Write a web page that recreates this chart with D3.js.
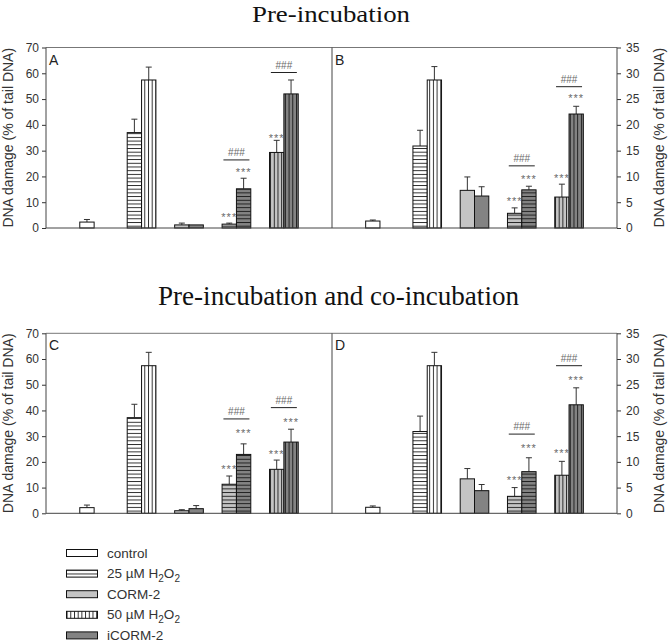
<!DOCTYPE html>
<html><head><meta charset="utf-8">
<script src="https://cdn.jsdelivr.net/npm/d3@7"></script>
<style>body{margin:0;background:#fff} svg{display:block}</style>
</head><body>
<svg id="chart" width="669" height="643"></svg>
<script>
// ---------- DATA ----------
const groups = ["control", "H2O2", "CORM", "25 µM H2O2 + CORM", "50 µM H2O2 + CORM"];
const barKeys  = ["control","h25","h50","corm","icorm","h25corm","h25icorm","h50corm","h50icorm"];
const barGroup = [0,1,1,2,2,3,3,4,4];
const barSlot  = [0,0,1,0,1,0,1,0,1];
const barFill  = ["white","white","white","light","dark","light","dark","light","dark"];
const barHatch = ["none","h","v","none","none","h","h","v","v"];

const valuesA = [2.3, 37.0, 57.4, 1.2, 1.2, 1.5, 15.2, 29.3, 52.0];
const errorsA = [1.0, 5.2, 5.0, 0.7, 0.0, 0.4, 4.1, 4.7, 5.4];
const valuesB = [1.35, 15.9, 28.7, 7.3, 6.2, 2.85, 7.4, 6.0, 22.1];
const errorsB = [0.2, 3.05, 2.6, 2.6, 1.8, 1.05, 0.7, 2.5, 1.5];
const valuesC = [2.2, 37.2, 57.4, 1.0, 1.8, 11.3, 22.9, 17.1, 27.7];
const errorsC = [1.0, 5.2, 5.2, 0.4, 1.2, 3.2, 4.1, 3.6, 5.0];
const valuesD = [1.17, 15.9, 28.7, 6.7, 4.4, 3.3, 8.1, 7.4, 21.1];
const errorsD = [0.26, 3.0, 2.6, 2.0, 1.2, 1.7, 2.7, 2.7, 3.3];

// significance marks: [bar index, y level in data units]
const starsA = [[5, 5.0], [6, 22.5], [7, 35.7]];
const starsB = [[5, 5.7], [6, 9.9], [7, 10.1], [8, 25.6]];
const starsC = [[5, 18.1], [6, 32.0], [7, 24.0], [8, 36.3]];
const starsD = [[5, 6.8], [6, 13.1], [7, 12.2], [8, 26.4]];
// ### marks: [group index, line level in data units]
const hashA = [[3, 26.4], [4, 60.3]];
const hashB = [[3, 12.05], [4, 27.4]];
const hashC = [[3, 36.7], [4, 41.1]];
const hashD = [[3, 15.4], [4, 28.7]];

const leftTicks = [0,10,20,30,40,50,60,70];
const rightTicks = [0,5,10,15,20,25,30,35];
const titles = ["Pre-incubation", "Pre-incubation and co-incubation"];
const yLabel = "DNA damage (% of tail DNA)";
const legendKeys = [0, 1, 3, 2, 4];

// ---------- LAYOUT ----------
const W = 669, H = 643;
const xL = 46, xM = 332, xR = 617;
const rows = [{top: 47.5, bottom: 228}, {top: 333.3, bottom: 513.3}];
const colors = {white: "#ffffff", light: "#c4c4c4", dark: "#838383"};
const ink = "#333";

const svg = d3.select("#chart");
svg.append("rect").attr("width", W).attr("height", H).attr("fill", "#fff");
const defs = svg.append("defs");

function patId(fill, hatch) { return "p_" + fill + "_" + hatch; }
["white","light","dark"].forEach(f => {
  ["h","v"].forEach(h => {
    const sz = 3.7;
    const p = defs.append("pattern").attr("id", patId(f,h))
      .attr("patternUnits", "userSpaceOnUse")
      .attr("width", h === "v" ? sz : 8).attr("height", h === "h" ? sz : 8);
    p.append("rect").attr("width", 8).attr("height", 8).attr("fill", colors[f]);
    if (h === "h") p.append("line").attr("x1", 0).attr("x2", 8).attr("y1", 0.5).attr("y2", 0.5)
      .attr("stroke", "#111").attr("stroke-width", 0.9);
    else p.append("line").attr("y1", 0).attr("y2", 8).attr("x1", 0.5).attr("x2", 0.5)
      .attr("stroke", "#111").attr("stroke-width", 0.9);
  });
});
function fillFor(i) {
  return barHatch[i] === "none" ? colors[barFill[i]] : `url(#${patId(barFill[i], barHatch[i])})`;
}

const panels = [
  {id: "A", row: 0, x0: xL, x1: xM, yMax: 70, values: valuesA, errors: errorsA, stars: starsA, hashes: hashA},
  {id: "B", row: 0, x0: xM, x1: xR, yMax: 35, values: valuesB, errors: errorsB, stars: starsB, hashes: hashB},
  {id: "C", row: 1, x0: xL, x1: xM, yMax: 70, values: valuesC, errors: errorsC, stars: starsC, hashes: hashC},
  {id: "D", row: 1, x0: xM, x1: xR, yMax: 35, values: valuesD, errors: errorsD, stars: starsD, hashes: hashD},
];

panels.forEach(pn => {
  const r = rows[pn.row];
  const x = d3.scaleBand().domain(d3.range(groups.length)).range([pn.x0, pn.x1])
    .paddingInner(0.395).paddingOuter(0.712);
  const xs = d3.scaleBand().domain([0,1]).range([0, x.bandwidth()]);
  const y = d3.scaleLinear().domain([0, pn.yMax]).range([r.bottom, r.top]);
  const g = svg.append("g");
  const bx = i => x(barGroup[i]) + xs(barSlot[i]);
  const bw = xs.bandwidth();

  // error bars (upward only)
  const eb = g.selectAll(".eb").data(d3.range(barKeys.length)).join("g");
  eb.append("line").attr("x1", i => bx(i) + bw/2).attr("x2", i => bx(i) + bw/2)
    .attr("y1", i => y(pn.values[i])).attr("y2", i => y(pn.values[i] + pn.errors[i]))
    .attr("stroke", ink).attr("stroke-width", 1);
  eb.append("line").attr("x1", i => bx(i) + bw/2 - 3).attr("x2", i => bx(i) + bw/2 + 3)
    .attr("y1", i => y(pn.values[i] + pn.errors[i])).attr("y2", i => y(pn.values[i] + pn.errors[i]))
    .attr("stroke", ink).attr("stroke-width", 1)
    .attr("display", i => pn.errors[i] > 0 ? null : "none");

  // bars
  g.selectAll(".bar").data(d3.range(barKeys.length)).join("rect")
    .attr("x", i => bx(i)).attr("width", bw)
    .attr("y", i => y(pn.values[i])).attr("height", i => y(0) - y(pn.values[i]))
    .attr("fill", i => fillFor(i)).attr("stroke", "#111").attr("stroke-width", 1);

  // stars
  g.selectAll(".st").data(pn.stars).join("text")
    .attr("x", d => bx(d[0]) + bw/2).attr("y", d => y(d[1]) + 6)
    .attr("text-anchor", "middle").attr("font-family", "Liberation Sans, Arial, sans-serif")
    .attr("font-size", 11).attr("letter-spacing", 1).attr("fill", "#6a6a6a").text("***");

  // hashes with line
  pn.hashes.forEach(([gi, lv]) => {
    const cx = x(gi) + x.bandwidth()/2;
    g.append("line").attr("x1", cx - 13).attr("x2", cx + 13).attr("y1", y(lv)).attr("y2", y(lv))
      .attr("stroke", "#222").attr("stroke-width", 1);
    g.append("text").attr("x", cx).attr("y", y(lv) - 4).attr("text-anchor", "middle")
      .attr("font-family", "Liberation Sans, Arial, sans-serif").attr("font-size", 10)
      .attr("fill", "#6a6a6a").text("###");
  });

  // panel letter
  g.append("text").attr("x", pn.x0 + 3).attr("y", r.top + 17)
    .attr("font-family", "Liberation Sans, Arial, sans-serif").attr("font-size", 14)
    .attr("fill", "#222").text(pn.id);

  // axes
  if (pn.id === "A" || pn.id === "C") {
    const ax = svg.append("g").attr("transform", `translate(${xL},0)`)
      .call(d3.axisLeft(y).tickValues(leftTicks).tickSize(4).tickPadding(3).tickFormat(d3.format("d")));
    ax.select(".domain").remove();
    ax.selectAll("line").attr("stroke", ink);
    ax.selectAll("text").attr("font-family", "Liberation Sans, Arial, sans-serif").attr("font-size", 12).attr("fill", ink);
    svg.append("text").attr("transform", `translate(13,${(r.top + r.bottom)/2}) rotate(-90)`)
      .attr("text-anchor", "middle").attr("font-family", "Liberation Sans, Arial, sans-serif")
      .attr("font-size", 14).attr("fill", ink).text(yLabel);
  } else {
    const ax = svg.append("g").attr("transform", `translate(${xR},0)`)
      .call(d3.axisRight(y).tickValues(rightTicks).tickSize(4).tickPadding(5).tickFormat(d3.format("d")));
    ax.select(".domain").remove();
    ax.selectAll("line").attr("stroke", ink);
    ax.selectAll("text").attr("font-family", "Liberation Sans, Arial, sans-serif").attr("font-size", 12).attr("fill", ink);
    svg.append("text").attr("transform", `translate(664,${(r.top + r.bottom)/2}) rotate(-90)`)
      .attr("text-anchor", "middle").attr("font-family", "Liberation Sans, Arial, sans-serif")
      .attr("font-size", 14).attr("fill", ink).text(yLabel);
  }
});

// frames
rows.forEach(r => {
  const f = svg.append("g").attr("stroke", "#444").attr("stroke-width", 1).attr("fill", "none");
  f.append("line").attr("x1", xL).attr("x2", xR).attr("y1", r.top).attr("y2", r.top).attr("stroke", "#777");
  f.append("line").attr("x1", xL).attr("x2", xR).attr("y1", r.bottom).attr("y2", r.bottom);
  f.append("line").attr("x1", xL).attr("x2", xL).attr("y1", r.top).attr("y2", r.bottom);
  f.append("line").attr("x1", xM).attr("x2", xM).attr("y1", r.top).attr("y2", r.bottom);
  f.append("line").attr("x1", xR).attr("x2", xR).attr("y1", r.top).attr("y2", r.bottom);
});

// titles
const tt = [{x: 331, y: 21.5, len: 158, fs: 24}, {x: 338.5, y: 305, len: 361, fs: 27}];
titles.forEach((t, i) => {
  svg.append("text").attr("x", tt[i].x).attr("y", tt[i].y).attr("text-anchor", "middle")
    .attr("font-family", "'Liberation Serif', 'Times New Roman', serif").attr("font-size", tt[i].fs)
    .attr("textLength", tt[i].len).attr("lengthAdjust", "spacingAndGlyphs")
    .attr("fill", "#111").text(t);
});

// legend
const legendLabels = {
  0: ["control"], 1: ["25 µM H", "2", "O", "2"], 3: ["CORM-2"], 2: ["50 µM H", "2", "O", "2"], 4: ["iCORM-2"]
};
const lg = svg.append("g");
legendKeys.forEach((k, j) => {
  const cy = 553 + j * 20.6;
  lg.append("rect").attr("x", 66.5).attr("y", cy - 3.5).attr("width", 31).attr("height", 7)
    .attr("fill", fillFor(k)).attr("stroke", "#111").attr("stroke-width", 1);
  const t = lg.append("text").attr("x", 107).attr("y", cy + 4.5)
    .attr("font-family", "Liberation Sans, Arial, sans-serif").attr("font-size", 13.5).attr("fill", ink);
  const parts = legendLabels[k];
  if (parts.length === 1) t.text(parts[0]);
  else {
    t.append("tspan").text(parts[0]);
    t.append("tspan").attr("font-size", 10).attr("dy", 4).text(parts[1]);
    t.append("tspan").attr("dy", -4).text(parts[2]);
    t.append("tspan").attr("font-size", 10).attr("dy", 4).text(parts[3]);
  }
});
</script>
</body></html>
